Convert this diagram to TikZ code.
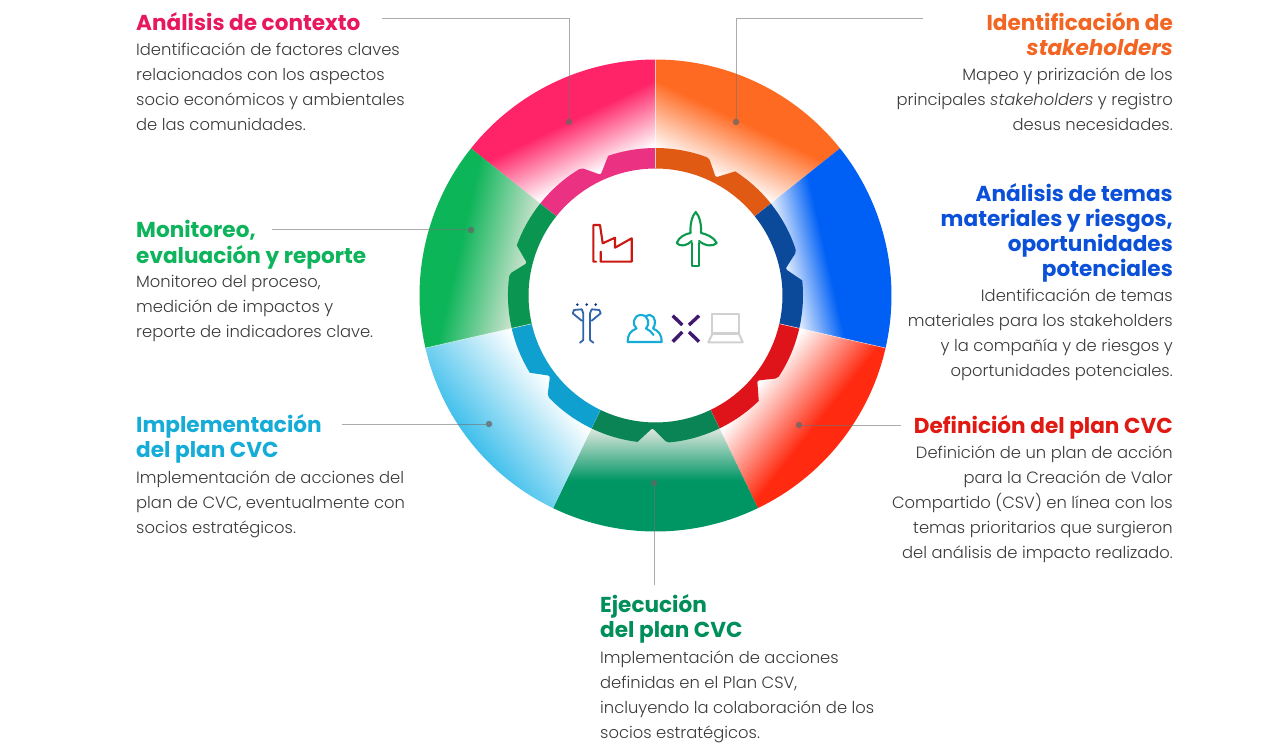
\documentclass[tikz,border=0pt]{standalone}
\usepackage{fontspec}
\setmainfont{Poppins}
\newfontfamily\bodyf[ItalicFont={Poppins Light Italic}]{Poppins Light}
\newfontfamily\titlef[ItalicFont={Poppins Bold Italic}]{Poppins Bold}
\definecolor{cpink}{HTML}{FF2468}\definecolor{rpink}{HTML}{EA3182}\definecolor{tpink}{HTML}{E8185F}
\definecolor{corange}{HTML}{FF6A22}\definecolor{rorange}{HTML}{E05A14}\definecolor{torange}{HTML}{F26522}
\definecolor{cblue}{HTML}{0060F5}\definecolor{rblue}{HTML}{0B4A9B}\definecolor{tblue}{HTML}{0A50D8}
\definecolor{cred}{HTML}{FF2A10}\definecolor{rred}{HTML}{DF141A}\definecolor{tred}{HTML}{E01A12}
\definecolor{cdgreen}{HTML}{009664}\definecolor{rdgreen}{HTML}{0A8455}\definecolor{tdgreen}{HTML}{008F5A}
\definecolor{sdgreen}{HTML}{D5E4DB}
\definecolor{ccyan}{HTML}{3CBEEB}\definecolor{rcyan}{HTML}{0FA0D0}\definecolor{tcyan}{HTML}{15ACD8}
\definecolor{cgreen}{HTML}{0DB559}\definecolor{rgreen}{HTML}{0A9650}\definecolor{tgreen}{HTML}{0DB45C}
\definecolor{sgreen}{HTML}{C8E2CC}
\definecolor{bodyc}{HTML}{3A3A3A}
\pgfdeclarehorizontalshading{shpink}{100bp}{color(0bp)=(white); color(53.13bp)=(white); color(65.5bp)=(cpink); color(100bp)=(cpink)}
\pgfdeclarehorizontalshading{shorange}{100bp}{color(0bp)=(white); color(52.5bp)=(white); color(65.5bp)=(corange); color(100bp)=(corange)}
\pgfdeclarehorizontalshading{shblue}{100bp}{color(0bp)=(white); color(51.67bp)=(white); color(61.5bp)=(cblue); color(100bp)=(cblue)}
\pgfdeclarehorizontalshading{shred}{100bp}{color(0bp)=(white); color(53.13bp)=(white); color(68bp)=(cred); color(100bp)=(cred)}
\pgfdeclarehorizontalshading{shdgreen}{100bp}{color(0bp)=(sdgreen); color(53.13bp)=(sdgreen); color(63.54bp)=(cdgreen); color(100bp)=(cdgreen)}
\pgfdeclarehorizontalshading{shcyan}{100bp}{color(0bp)=(white); color(53.13bp)=(white); color(74.5bp)=(ccyan); color(100bp)=(ccyan)}
\pgfdeclarehorizontalshading{shgreen}{100bp}{color(0bp)=(sgreen); color(53.13bp)=(sgreen); color(67bp)=(cgreen); color(100bp)=(cgreen)}
\newcommand\sect[3]{%
\begin{scope}[transform canvas={shift={(655.5,-295.5)},rotate=#1}]
\begin{scope}
\clip (-25.72:127) -- (-25.72:236) arc (-25.72:25.72:236) -- (25.72:127) arc (25.72:-25.72:127) -- cycle;
\shade[shading=#2] (0,-240) rectangle (240,240);
\end{scope}
\fill[#3] (-25.72:127) -- (-25.72:147.5) arc (-25.72:-7:147.5) [rounded corners=2pt] -- (-1.3:132.6) -- (4.4:147.5) [sharp corners] arc (4.4:25.72:147.5) -- (25.72:127) arc (25.72:-25.72:127) -- cycle;
\end{scope}}
\tikzset{
 x=1pt,y=1pt,
 title/.style={anchor=north west,inner sep=0pt,align=left,font=\titlef\fontsize{21.6}{25}\selectfont},
 titler/.style={title,anchor=north east,align=right},
 body/.style={anchor=north west,inner sep=0pt,align=left,text=bodyc,font=\bodyf\fontsize{16.35}{25}\selectfont},
 bodyr/.style={body,anchor=north east,align=right},
 leader/.style={draw=black!55,draw opacity=.6,line width=1pt},
 dot/.style={circle,fill=black!60,fill opacity=.75,inner sep=0pt,minimum size=6.5pt},
 icon/.style={line width=2.1pt,line join=round,line cap=round},
}
\begin{document}
\begin{tikzpicture}
\useasboundingbox[fill=white] (0,0) rectangle (1280,-746);
% sectors
\sect{115.72}{shpink}{rpink}
\sect{64.29}{shorange}{rorange}
\sect{12.86}{shblue}{rblue}
\sect{-38.57}{shred}{rred}
\sect{-90}{shdgreen}{rdgreen}
\sect{-141.43}{shcyan}{rcyan}
\sect{167.14}{shgreen}{rgreen}
% thin separators
\coordinate (c) at (655.5,-295.5);
\foreach \a in {90,-12.86,-167.14} \draw[white,line width=.6pt,opacity=.6] ([shift={(\a:127)}]c) -- ([shift={(\a:236)}]c);
% leaders
\node[dot] (d1) at (569,-122) {};
\node[dot] (d2) at (736,-122) {};
\node[dot] (d3) at (471,-230) {};
\node[dot] (d4) at (489,-424) {};
\node[dot] (d5) at (799,-425) {};
\node[dot] (d6) at (654,-483) {};
\coordinate (e1) at (382,-19);
\coordinate (e2) at (923,-19);
\coordinate (e3) at (272,-230);
\coordinate (e4) at (342,-424);
\coordinate (e5) at (901,-425);
\coordinate (e6) at (654,-585);
\draw[leader] (e1) -| (d1);
\draw[leader] (e2) -| (d2);
\draw[leader] (e3) -- (d3);
\draw[leader] (e4) -- (d4);
\draw[leader] (e5) -- (d5);
\draw[leader] (e6) -- (d6);
% texts  (y = baseline - 17.5)
\node[title,text=tpink] (t1) at (136,-12.5) {\strut Análisis de contexto};
\node[body] (b1) at (136,-37.5) {\strut Identificación de factores claves\\relacionados con los aspectos\\socio económicos y ambientales\\de las comunidades.};
\node[titler,text=torange] (t2) at (1173,-12.5) {\strut Identificación de\\\textit{stakeholders}};
\node[bodyr] (b2) at (1173,-62.5) {\strut Mapeo y prirización de los\\principales \textit{stakeholders} y registro\\desus necesidades.};
\node[titler,text=tblue] (t3) at (1173,-183.5) {\strut Análisis de temas\\materiales y riesgos,\\oportunidades\\potenciales};
\node[bodyr] (b3) at (1173,-283.5) {\strut Identificación de temas\\materiales para los stakeholders\\y la compañía y de riesgos y\\oportunidades potenciales.};
\node[titler,text=tred] (t4) at (1173,-415.5) {\strut Definición del plan CVC};
\node[bodyr] (b4) at (1173,-440.5) {\strut Definición de un plan de acción\\para la Creación de Valor\\Compartido (CSV) en línea con los\\temas prioritarios que surgieron\\del análisis de impacto realizado.};
\node[title,text=tdgreen] (t5) at (600,-594.5) {\strut Ejecución\\del plan CVC};
\node[body] (b5) at (600,-645.5) {\strut Implementación de acciones\\definidas en el Plan CSV,\\incluyendo la colaboración de los\\socios estratégicos.};
\node[title,text=tcyan] (t6) at (136,-414.5) {\strut Implementación\\del plan CVC};
\node[body] (b6) at (136,-465.5) {\strut Implementación de acciones del\\plan de CVC, eventualmente con\\socios estratégicos.};
\node[title,text=tgreen] (t7) at (136,-219.5) {\strut Monitoreo,\\evaluación y reporte};
\node[body] (b7) at (136,-269.5) {\strut Monitoreo del proceso,\\medición de impactos y\\reporte de indicadores clave.};
% factory
\draw[icon,color=tred!90!black] (600.7,-251.7) -- (600.7,-261.7) -- (631.7,-261.7) -- (631.7,-238.3) -- (615,-247.7) -- (615,-237.7) -- (602.7,-243.3) -- (600,-225) -- (593.3,-225) -- (593.3,-261.7) -- (596,-261.7);
% turbine
\draw[icon,color=tgreen!85!black] (691.7,-243) -- (691.7,-266) -- (699,-266) -- (699,-243);
\draw[icon,color=tgreen!85!black] (690.5,-233) .. controls (690,-224) and (692,-216) .. (695.7,-212) .. controls (699.5,-216) and (701.5,-224) .. (701,-233) .. controls (706,-234) and (714,-237) .. (716.7,-243) .. controls (713,-247) and (705,-246) .. (699,-241);
\draw[icon,color=tgreen!85!black] (690.5,-233) .. controls (685,-234) and (679,-237) .. (676.7,-243) .. controls (680,-247) and (687,-246) .. (691.7,-241);
% figure
\fill[tblue!60!black] (577.3,-304.6) circle (1.4) (586.7,-304.6) circle (1.4) (595.7,-304.6) circle (1.4);
\draw[icon,color=rblue!85,line width=1.8pt] (581.7,-320.7) -- (572.7,-313.3) -- (574,-310) -- (581.7,-309.3) -- (583.3,-313.3) -- (583.3,-340) -- (580,-342.7);
\draw[icon,color=rblue!85,line width=1.8pt] (591.7,-320.7) -- (600.7,-313.3) -- (599.3,-310) -- (591.7,-309.3) -- (590,-313.3) -- (590,-340) -- (593.3,-342.7);
% people
\draw[icon,color=tcyan] (636.5,-328.5) .. controls (630,-331) and (627.7,-335) .. (627.7,-342) -- (661.7,-342) .. controls (661.7,-335) and (659,-331) .. (653,-328.5) .. controls (656,-325) and (656,-316) .. (650,-315) .. controls (648,-315) and (647,-315.5) .. (646,-316.5);
\draw[icon,color=tcyan] (646,-328.5) .. controls (650,-325) and (649,-315) .. (641,-315) .. controls (633,-315) and (632,-325) .. (636.5,-328.5);
\draw[icon,color=tcyan] (646,-328.5) .. controls (649,-330) and (652,-332) .. (653.5,-335);
% cross
\draw[color=rblue!40!violet!80!black,line width=3.4pt] (672.7,-315.7) -- (682.3,-325) (699,-315.7) -- (689,-325) (672.7,-341.7) -- (682.3,-332) (699,-341.7) -- (689,-332);
% laptop
\draw[icon,color=black!18] (712.3,-333.5) -- (712.3,-314.3) -- (739,-314.3) -- (739,-333.5) -- cycle;
\draw[icon,color=black!18] (712.3,-334) -- (708.3,-342.3) -- (742.7,-342.3) -- (739,-334);
\end{tikzpicture}
\end{document}
